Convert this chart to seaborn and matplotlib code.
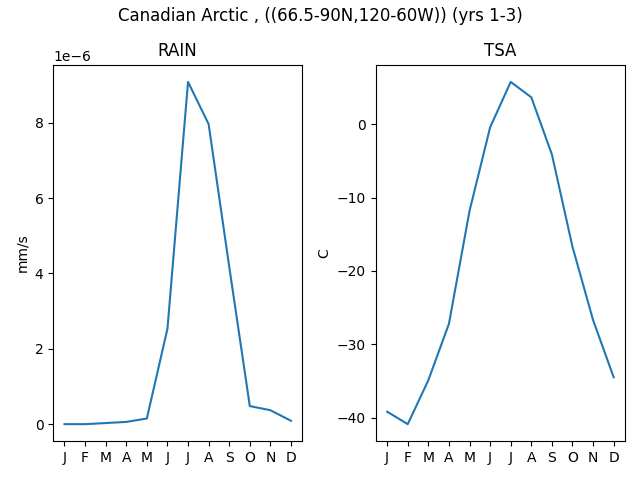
import numpy as np
import pandas as pd
import matplotlib
matplotlib.use("Agg")
import matplotlib.pyplot as plt
import seaborn as sns

months = ['J', 'F', 'M', 'A', 'M', 'J', 'J', 'A', 'S', 'O', 'N', 'D']
rain = [0.0, 0.0, 0.03, 0.06, 0.15, 2.53, 9.08, 7.96, 4.18, 0.48, 0.37, 0.09]  # x 1e-6 mm/s
tsa = [-39.2, -40.9, -34.9, -27.2, -11.8, -0.4, 5.8, 3.7, -4.1, -16.7, -26.7, -34.5]

df = pd.DataFrame({'month': np.arange(12),
                   'RAIN': np.array(rain) * 1e-6,
                   'TSA': tsa})

fig, axes = plt.subplots(1, 2, figsize=(6.4, 4.8))

sns.lineplot(data=df, x='month', y='RAIN', ax=axes[0])
axes[0].set_title('RAIN')
axes[0].set_ylabel('mm/s')

sns.lineplot(data=df, x='month', y='TSA', ax=axes[1])
axes[1].set_title('TSA')
axes[1].set_ylabel('C')

for ax in axes:
    ax.set_xticks(np.arange(12))
    ax.set_xticklabels(months)
    ax.set_xlabel('')

fig.suptitle('Canadian Arctic , ((66.5-90N,120-60W)) (yrs 1-3)', y=0.985)
fig.tight_layout()
fig.subplots_adjust(top=0.865)
fig.savefig('out.png', dpi=100)
